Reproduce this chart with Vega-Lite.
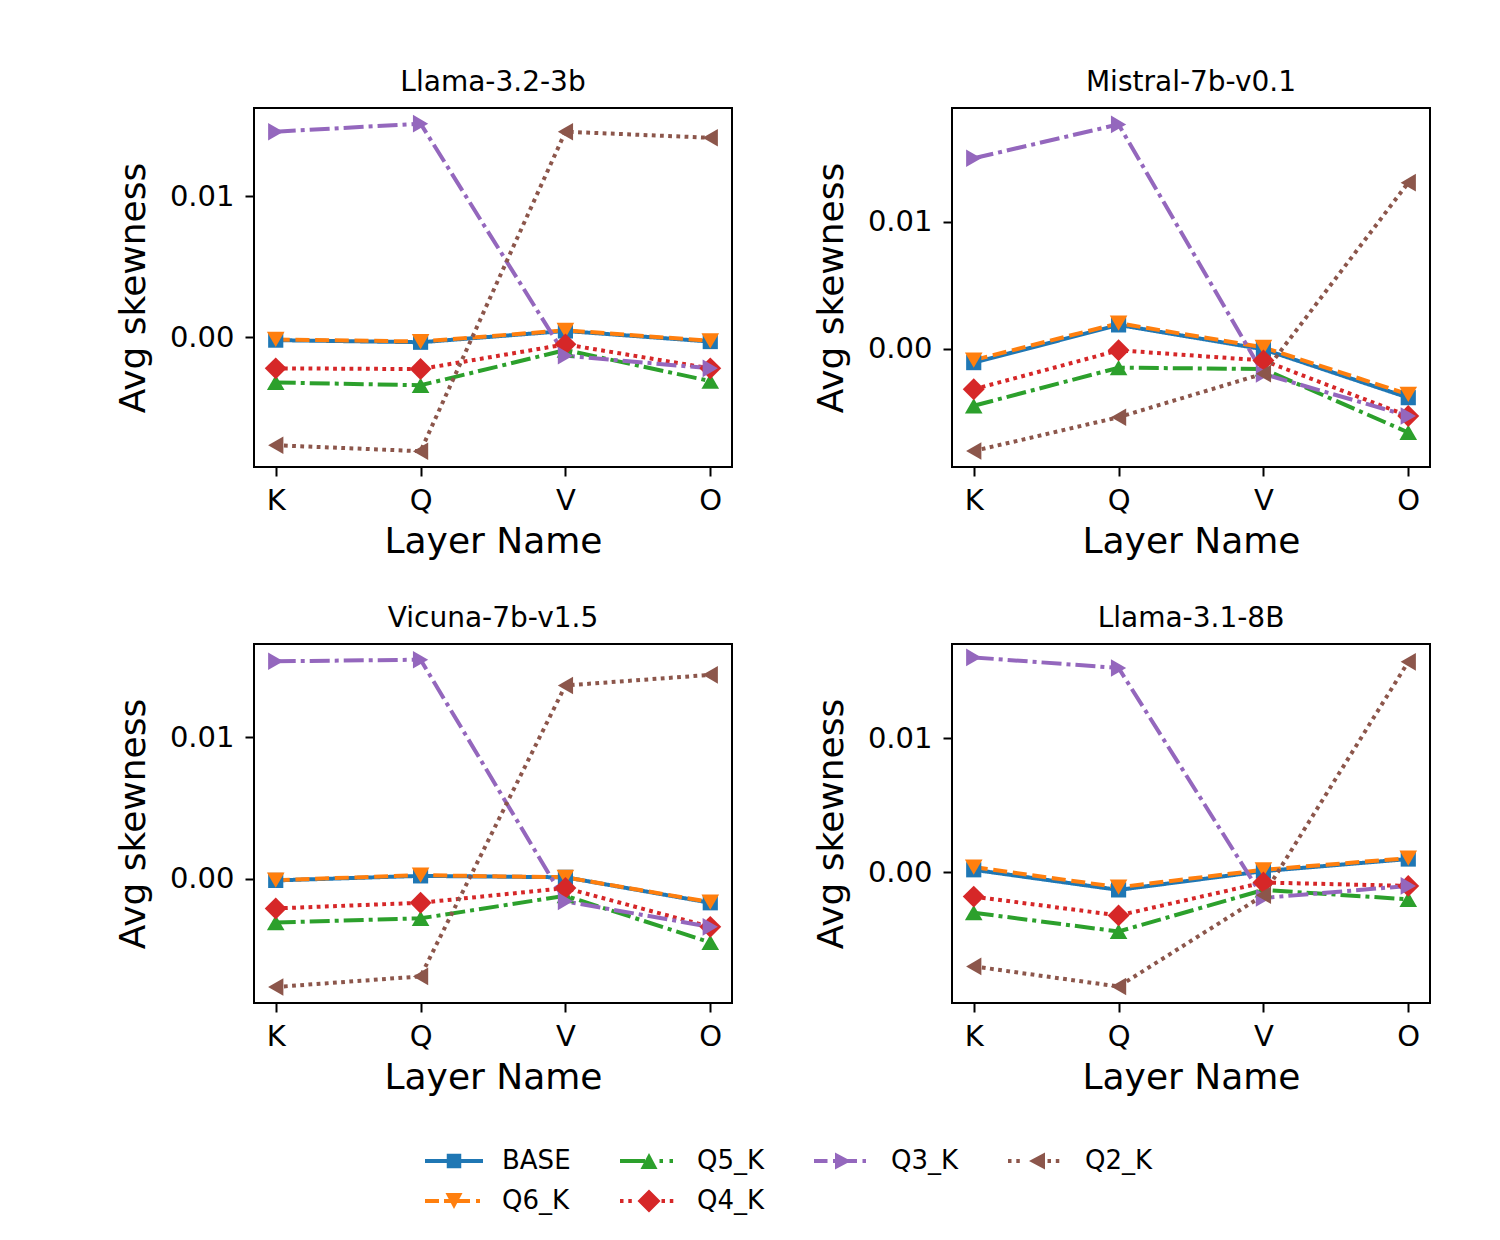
{
  "$schema": "https://vega.github.io/schema/vega-lite/v6.json",
  "background": "white",
  "padding": {"left": 114, "top": 68, "right": 20, "bottom": 20},
  "data": {"values": [
    {"m":"Llama-3.2-3b","s":"BASE","l":"K","v":-0.0002},{"m":"Llama-3.2-3b","s":"BASE","l":"Q","v":-0.00035},{"m":"Llama-3.2-3b","s":"BASE","l":"V","v":0.00045},{"m":"Llama-3.2-3b","s":"BASE","l":"O","v":-0.0003},
    {"m":"Llama-3.2-3b","s":"Q6_K","l":"K","v":-0.00015},{"m":"Llama-3.2-3b","s":"Q6_K","l":"Q","v":-0.0003},{"m":"Llama-3.2-3b","s":"Q6_K","l":"V","v":0.0005},{"m":"Llama-3.2-3b","s":"Q6_K","l":"O","v":-0.00025},
    {"m":"Llama-3.2-3b","s":"Q5_K","l":"K","v":-0.0032},{"m":"Llama-3.2-3b","s":"Q5_K","l":"Q","v":-0.0034},{"m":"Llama-3.2-3b","s":"Q5_K","l":"V","v":-0.0009},{"m":"Llama-3.2-3b","s":"Q5_K","l":"O","v":-0.0031},
    {"m":"Llama-3.2-3b","s":"Q4_K","l":"K","v":-0.0022},{"m":"Llama-3.2-3b","s":"Q4_K","l":"Q","v":-0.00225},{"m":"Llama-3.2-3b","s":"Q4_K","l":"V","v":-0.0005},{"m":"Llama-3.2-3b","s":"Q4_K","l":"O","v":-0.0022},
    {"m":"Llama-3.2-3b","s":"Q3_K","l":"K","v":0.01457},{"m":"Llama-3.2-3b","s":"Q3_K","l":"Q","v":0.01514},{"m":"Llama-3.2-3b","s":"Q3_K","l":"V","v":-0.0013},{"m":"Llama-3.2-3b","s":"Q3_K","l":"O","v":-0.0022},
    {"m":"Llama-3.2-3b","s":"Q2_K","l":"K","v":-0.00765},{"m":"Llama-3.2-3b","s":"Q2_K","l":"Q","v":-0.00807},{"m":"Llama-3.2-3b","s":"Q2_K","l":"V","v":0.01457},{"m":"Llama-3.2-3b","s":"Q2_K","l":"O","v":0.01414},

    {"m":"Mistral-7b-v0.1","s":"BASE","l":"K","v":-0.0011},{"m":"Mistral-7b-v0.1","s":"BASE","l":"Q","v":0.00187},{"m":"Mistral-7b-v0.1","s":"BASE","l":"V","v":-0.00005},{"m":"Mistral-7b-v0.1","s":"BASE","l":"O","v":-0.00386},
    {"m":"Mistral-7b-v0.1","s":"Q6_K","l":"K","v":-0.0009},{"m":"Mistral-7b-v0.1","s":"Q6_K","l":"Q","v":0.002},{"m":"Mistral-7b-v0.1","s":"Q6_K","l":"V","v":0.0001},{"m":"Mistral-7b-v0.1","s":"Q6_K","l":"O","v":-0.0036},
    {"m":"Mistral-7b-v0.1","s":"Q5_K","l":"K","v":-0.0045},{"m":"Mistral-7b-v0.1","s":"Q5_K","l":"Q","v":-0.0015},{"m":"Mistral-7b-v0.1","s":"Q5_K","l":"V","v":-0.0016},{"m":"Mistral-7b-v0.1","s":"Q5_K","l":"O","v":-0.0066},
    {"m":"Mistral-7b-v0.1","s":"Q4_K","l":"K","v":-0.0032},{"m":"Mistral-7b-v0.1","s":"Q4_K","l":"Q","v":-0.00013},{"m":"Mistral-7b-v0.1","s":"Q4_K","l":"V","v":-0.00093},{"m":"Mistral-7b-v0.1","s":"Q4_K","l":"O","v":-0.0053},
    {"m":"Mistral-7b-v0.1","s":"Q3_K","l":"K","v":0.01499},{"m":"Mistral-7b-v0.1","s":"Q3_K","l":"Q","v":0.01766},{"m":"Mistral-7b-v0.1","s":"Q3_K","l":"V","v":-0.002},{"m":"Mistral-7b-v0.1","s":"Q3_K","l":"O","v":-0.0053},
    {"m":"Mistral-7b-v0.1","s":"Q2_K","l":"K","v":-0.00806},{"m":"Mistral-7b-v0.1","s":"Q2_K","l":"Q","v":-0.0054},{"m":"Mistral-7b-v0.1","s":"Q2_K","l":"V","v":-0.00197},{"m":"Mistral-7b-v0.1","s":"Q2_K","l":"O","v":0.01307},

    {"m":"Vicuna-7b-v1.5","s":"BASE","l":"K","v":-0.00012},{"m":"Vicuna-7b-v1.5","s":"BASE","l":"Q","v":0.0002},{"m":"Vicuna-7b-v1.5","s":"BASE","l":"V","v":0.0001},{"m":"Vicuna-7b-v1.5","s":"BASE","l":"O","v":-0.0017},
    {"m":"Vicuna-7b-v1.5","s":"Q6_K","l":"K","v":-0.0001},{"m":"Vicuna-7b-v1.5","s":"Q6_K","l":"Q","v":0.00025},{"m":"Vicuna-7b-v1.5","s":"Q6_K","l":"V","v":0.0001},{"m":"Vicuna-7b-v1.5","s":"Q6_K","l":"O","v":-0.00165},
    {"m":"Vicuna-7b-v1.5","s":"Q5_K","l":"K","v":-0.0031},{"m":"Vicuna-7b-v1.5","s":"Q5_K","l":"Q","v":-0.0028},{"m":"Vicuna-7b-v1.5","s":"Q5_K","l":"V","v":-0.0012},{"m":"Vicuna-7b-v1.5","s":"Q5_K","l":"O","v":-0.0045},
    {"m":"Vicuna-7b-v1.5","s":"Q4_K","l":"K","v":-0.0021},{"m":"Vicuna-7b-v1.5","s":"Q4_K","l":"Q","v":-0.0017},{"m":"Vicuna-7b-v1.5","s":"Q4_K","l":"V","v":-0.00066},{"m":"Vicuna-7b-v1.5","s":"Q4_K","l":"O","v":-0.0034},
    {"m":"Vicuna-7b-v1.5","s":"Q3_K","l":"K","v":0.01536},{"m":"Vicuna-7b-v1.5","s":"Q3_K","l":"Q","v":0.01547},{"m":"Vicuna-7b-v1.5","s":"Q3_K","l":"V","v":-0.0016},{"m":"Vicuna-7b-v1.5","s":"Q3_K","l":"O","v":-0.0034},
    {"m":"Vicuna-7b-v1.5","s":"Q2_K","l":"K","v":-0.00765},{"m":"Vicuna-7b-v1.5","s":"Q2_K","l":"Q","v":-0.0069},{"m":"Vicuna-7b-v1.5","s":"Q2_K","l":"V","v":0.01365},{"m":"Vicuna-7b-v1.5","s":"Q2_K","l":"O","v":0.0144},

    {"m":"Llama-3.1-8B","s":"BASE","l":"K","v":0.0002},{"m":"Llama-3.1-8B","s":"BASE","l":"Q","v":-0.0013},{"m":"Llama-3.1-8B","s":"BASE","l":"V","v":0.0001},{"m":"Llama-3.1-8B","s":"BASE","l":"O","v":0.001},
    {"m":"Llama-3.1-8B","s":"Q6_K","l":"K","v":0.0004},{"m":"Llama-3.1-8B","s":"Q6_K","l":"Q","v":-0.0011},{"m":"Llama-3.1-8B","s":"Q6_K","l":"V","v":0.0002},{"m":"Llama-3.1-8B","s":"Q6_K","l":"O","v":0.00107},
    {"m":"Llama-3.1-8B","s":"Q5_K","l":"K","v":-0.003},{"m":"Llama-3.1-8B","s":"Q5_K","l":"Q","v":-0.0044},{"m":"Llama-3.1-8B","s":"Q5_K","l":"V","v":-0.0013},{"m":"Llama-3.1-8B","s":"Q5_K","l":"O","v":-0.002},
    {"m":"Llama-3.1-8B","s":"Q4_K","l":"K","v":-0.0018},{"m":"Llama-3.1-8B","s":"Q4_K","l":"Q","v":-0.0032},{"m":"Llama-3.1-8B","s":"Q4_K","l":"V","v":-0.00075},{"m":"Llama-3.1-8B","s":"Q4_K","l":"O","v":-0.001},
    {"m":"Llama-3.1-8B","s":"Q3_K","l":"K","v":0.01603},{"m":"Llama-3.1-8B","s":"Q3_K","l":"Q","v":0.01524},{"m":"Llama-3.1-8B","s":"Q3_K","l":"V","v":-0.0019},{"m":"Llama-3.1-8B","s":"Q3_K","l":"O","v":-0.001},
    {"m":"Llama-3.1-8B","s":"Q2_K","l":"K","v":-0.007},{"m":"Llama-3.1-8B","s":"Q2_K","l":"Q","v":-0.0085},{"m":"Llama-3.1-8B","s":"Q2_K","l":"V","v":-0.0017},{"m":"Llama-3.1-8B","s":"Q2_K","l":"O","v":0.0157}
  ]},
  "columns": 2,
  "bounds": "flush",
  "spacing": {"row": 177, "column": 220},
  "concat": [
    {
      "width": 478, "height": 359,
      "title": "Llama-3.2-3b",
      "transform": [{"filter": "datum.m === 'Llama-3.2-3b'"}],
      "encoding": {
        "x": {"field": "l", "type": "ordinal", "scale": {"type": "point", "domain": ["K","Q","V","O"], "padding": 0.15}, "axis": {"title": "Layer Name", "labelAngle": 0}},
        "y": {"field": "v", "type": "quantitative", "scale": {"domain": [-0.00919, 0.01625], "nice": false, "zero": false}, "axis": {"title": "Avg skewness", "values": [0, 0.01], "format": ".2f"}}
      },
      "layer": [
        {"mark": {"type": "point", "filled": true, "opacity": 0},
         "encoding": {
           "color": {"field": "s", "type": "nominal", "scale": {"domain": ["BASE","Q5_K","Q3_K","Q2_K","Q6_K","Q4_K"], "range": ["#1f77b4","#2ca02c","#9467bd","#8c564b","#ff7f0e","#d62728"]},
             "legend": {"title": null, "orient": "none", "legendX": 171, "legendY": 1040, "direction": "horizontal", "columns": 4, "padding": 0, "symbolSize": 100, "symbolStrokeWidth": 0, "symbolOpacity": 1, "symbolOffset": 16, "labelOffset": 35, "rowPadding": 14, "columnPadding": 49, "labelFontSize": 26, "labelFont": "DejaVu Sans", "labelColor": "black"}},
           "shape": {"field": "s", "type": "nominal", "scale": {"domain": ["BASE","Q5_K","Q3_K","Q2_K","Q6_K","Q4_K"], "range": [
               "M-5.8,-0.38H5.8V0.38H-5.8ZM-1.45,-1.45H1.45V1.45H-1.45Z",
               "M-5.8,-0.38H-0.8V0.38H-5.8ZM2.1,-0.38H2.8V0.38H2.1ZM4.1,-0.38H4.8V0.38H4.1ZM0,-1.6L1.7,1.6H-1.7Z",
               "M-5.8,-0.38H-3.1V0.38H-5.8ZM-2.0,-0.38H2.8V0.38H-2.0ZM3.9,-0.38H4.6V0.38H3.9ZM-1.6,-1.7L1.6,0L-1.6,1.7Z",
               "M-5.8,-0.38H-5.1V0.38H-5.8ZM-4.14,-0.38H-3.44V0.38H-4.14ZM2.1,-0.38H2.8V0.38H2.1ZM3.76,-0.38H4.46V0.38H3.76ZM1.6,-1.7L1.6,1.7L-1.6,0Z",
               "M-5.8,-0.38H-3.0V0.38H-5.8ZM-2.0,-0.38H3.2V0.38H-2.0ZM4.4,-0.38H5.2V0.38H4.4ZM-1.7,-1.6H1.7L0,1.6Z",
               "M-5.8,-0.38H-5.1V0.38H-5.8ZM-4.14,-0.38H-3.44V0.38H-4.14ZM2.5,-0.38H3.2V0.38H2.5ZM4.16,-0.38H4.86V0.38H4.16ZM0,-2.3L2.3,0L0,2.3L-2.3,0Z"
             ]},
             "legend": {"title": null, "orient": "none", "legendX": 171, "legendY": 1040, "direction": "horizontal", "columns": 4, "padding": 0, "symbolSize": 100, "symbolStrokeWidth": 0, "symbolOpacity": 1, "symbolOffset": 16, "labelOffset": 35, "rowPadding": 14, "columnPadding": 49, "labelFontSize": 26, "labelFont": "DejaVu Sans", "labelColor": "black"}}
         }},
        {"mark": {"type": "line", "strokeWidth": 4},
         "encoding": {
           "color": {"field": "s", "type": "nominal", "legend": null},
           "strokeDash": {"field": "s", "type": "nominal", "scale": {"domain": ["BASE","Q6_K","Q5_K","Q4_K","Q3_K","Q2_K"], "range": [[1,0],[14,5.7],[20,5,4,5],[3.8,4.4],[20,5,4,5],[3.8,4.4]]}, "legend": null}
         }},
        {"transform": [{"filter": "datum.s === 'BASE'"}], "mark": {"type": "point", "shape": "square", "size": 230, "filled": true, "opacity": 1, "strokeWidth": 0}, "encoding": {"color": {"field": "s", "type": "nominal", "legend": null}}},
        {"transform": [{"filter": "datum.s === 'Q6_K'"}], "mark": {"type": "point", "shape": "triangle-down", "size": 310, "filled": true, "opacity": 1, "strokeWidth": 0}, "encoding": {"color": {"field": "s", "type": "nominal", "legend": null}}},
        {"transform": [{"filter": "datum.s === 'Q5_K'"}], "mark": {"type": "point", "shape": "triangle-up", "size": 310, "filled": true, "opacity": 1, "strokeWidth": 0}, "encoding": {"color": {"field": "s", "type": "nominal", "legend": null}}},
        {"transform": [{"filter": "datum.s === 'Q4_K'"}], "mark": {"type": "point", "shape": "diamond", "size": 480, "filled": true, "opacity": 1, "strokeWidth": 0}, "encoding": {"color": {"field": "s", "type": "nominal", "legend": null}}},
        {"transform": [{"filter": "datum.s === 'Q3_K'"}], "mark": {"type": "point", "shape": "triangle-right", "size": 310, "filled": true, "opacity": 1, "strokeWidth": 0}, "encoding": {"color": {"field": "s", "type": "nominal", "legend": null}}},
        {"transform": [{"filter": "datum.s === 'Q2_K'"}], "mark": {"type": "point", "shape": "triangle-left", "size": 310, "filled": true, "opacity": 1, "strokeWidth": 0}, "encoding": {"color": {"field": "s", "type": "nominal", "legend": null}}}
      ]
    },
    {
      "width": 478, "height": 359,
      "title": "Mistral-7b-v0.1",
      "transform": [{"filter": "datum.m === 'Mistral-7b-v0.1'"}],
      "encoding": {
        "x": {"field": "l", "type": "ordinal", "scale": {"type": "point", "domain": ["K","Q","V","O"], "padding": 0.15}, "axis": {"title": "Layer Name", "labelAngle": 0}},
        "y": {"field": "v", "type": "quantitative", "scale": {"domain": [-0.00932, 0.01895], "nice": false, "zero": false}, "axis": {"title": "Avg skewness", "values": [0, 0.01], "format": ".2f"}},
        "color": {"field": "s", "type": "nominal", "legend": null}
      },
      "layer": [
        {"mark": {"type": "line", "strokeWidth": 4}, "encoding": {"strokeDash": {"field": "s", "type": "nominal", "legend": null}}},
        {"transform": [{"filter": "datum.s === 'BASE'"}], "mark": {"type": "point", "shape": "square", "size": 230, "filled": true, "opacity": 1, "strokeWidth": 0}},
        {"transform": [{"filter": "datum.s === 'Q6_K'"}], "mark": {"type": "point", "shape": "triangle-down", "size": 310, "filled": true, "opacity": 1, "strokeWidth": 0}},
        {"transform": [{"filter": "datum.s === 'Q5_K'"}], "mark": {"type": "point", "shape": "triangle-up", "size": 310, "filled": true, "opacity": 1, "strokeWidth": 0}},
        {"transform": [{"filter": "datum.s === 'Q4_K'"}], "mark": {"type": "point", "shape": "diamond", "size": 480, "filled": true, "opacity": 1, "strokeWidth": 0}},
        {"transform": [{"filter": "datum.s === 'Q3_K'"}], "mark": {"type": "point", "shape": "triangle-right", "size": 310, "filled": true, "opacity": 1, "strokeWidth": 0}},
        {"transform": [{"filter": "datum.s === 'Q2_K'"}], "mark": {"type": "point", "shape": "triangle-left", "size": 310, "filled": true, "opacity": 1, "strokeWidth": 0}}
      ]
    },
    {
      "width": 478, "height": 359,
      "title": "Vicuna-7b-v1.5",
      "transform": [{"filter": "datum.m === 'Vicuna-7b-v1.5'"}],
      "encoding": {
        "x": {"field": "l", "type": "ordinal", "scale": {"type": "point", "domain": ["K","Q","V","O"], "padding": 0.15}, "axis": {"title": "Layer Name", "labelAngle": 0}},
        "y": {"field": "v", "type": "quantitative", "scale": {"domain": [-0.00878, 0.01658], "nice": false, "zero": false}, "axis": {"title": "Avg skewness", "values": [0, 0.01], "format": ".2f"}},
        "color": {"field": "s", "type": "nominal", "legend": null}
      },
      "layer": [
        {"mark": {"type": "line", "strokeWidth": 4}, "encoding": {"strokeDash": {"field": "s", "type": "nominal", "legend": null}}},
        {"transform": [{"filter": "datum.s === 'BASE'"}], "mark": {"type": "point", "shape": "square", "size": 230, "filled": true, "opacity": 1, "strokeWidth": 0}},
        {"transform": [{"filter": "datum.s === 'Q6_K'"}], "mark": {"type": "point", "shape": "triangle-down", "size": 310, "filled": true, "opacity": 1, "strokeWidth": 0}},
        {"transform": [{"filter": "datum.s === 'Q5_K'"}], "mark": {"type": "point", "shape": "triangle-up", "size": 310, "filled": true, "opacity": 1, "strokeWidth": 0}},
        {"transform": [{"filter": "datum.s === 'Q4_K'"}], "mark": {"type": "point", "shape": "diamond", "size": 480, "filled": true, "opacity": 1, "strokeWidth": 0}},
        {"transform": [{"filter": "datum.s === 'Q3_K'"}], "mark": {"type": "point", "shape": "triangle-right", "size": 310, "filled": true, "opacity": 1, "strokeWidth": 0}},
        {"transform": [{"filter": "datum.s === 'Q2_K'"}], "mark": {"type": "point", "shape": "triangle-left", "size": 310, "filled": true, "opacity": 1, "strokeWidth": 0}}
      ]
    },
    {
      "width": 478, "height": 359,
      "title": "Llama-3.1-8B",
      "transform": [{"filter": "datum.m === 'Llama-3.1-8B'"}],
      "encoding": {
        "x": {"field": "l", "type": "ordinal", "scale": {"type": "point", "domain": ["K","Q","V","O"], "padding": 0.15}, "axis": {"title": "Layer Name", "labelAngle": 0}},
        "y": {"field": "v", "type": "quantitative", "scale": {"domain": [-0.00973, 0.01703], "nice": false, "zero": false}, "axis": {"title": "Avg skewness", "values": [0, 0.01], "format": ".2f"}},
        "color": {"field": "s", "type": "nominal", "legend": null}
      },
      "layer": [
        {"mark": {"type": "line", "strokeWidth": 4}, "encoding": {"strokeDash": {"field": "s", "type": "nominal", "legend": null}}},
        {"transform": [{"filter": "datum.s === 'BASE'"}], "mark": {"type": "point", "shape": "square", "size": 230, "filled": true, "opacity": 1, "strokeWidth": 0}},
        {"transform": [{"filter": "datum.s === 'Q6_K'"}], "mark": {"type": "point", "shape": "triangle-down", "size": 310, "filled": true, "opacity": 1, "strokeWidth": 0}},
        {"transform": [{"filter": "datum.s === 'Q5_K'"}], "mark": {"type": "point", "shape": "triangle-up", "size": 310, "filled": true, "opacity": 1, "strokeWidth": 0}},
        {"transform": [{"filter": "datum.s === 'Q4_K'"}], "mark": {"type": "point", "shape": "diamond", "size": 480, "filled": true, "opacity": 1, "strokeWidth": 0}},
        {"transform": [{"filter": "datum.s === 'Q3_K'"}], "mark": {"type": "point", "shape": "triangle-right", "size": 310, "filled": true, "opacity": 1, "strokeWidth": 0}},
        {"transform": [{"filter": "datum.s === 'Q2_K'"}], "mark": {"type": "point", "shape": "triangle-left", "size": 310, "filled": true, "opacity": 1, "strokeWidth": 0}}
      ]
    }
  ],
  "config": {
    "font": "DejaVu Sans",
    "view": {"stroke": "black", "strokeWidth": 2},
    "axis": {"domain": false, "grid": false, "tickColor": "black", "tickWidth": 2, "tickSize": 9, "labelColor": "black", "titleColor": "black", "labelFont": "DejaVu Sans", "titleFont": "DejaVu Sans", "labelFontSize": 29, "titleFontSize": 36, "titleFontWeight": "normal", "labelPadding": 10},
    "axisY": {"titlePadding": 17, "labelPadding": 11},
    "axisX": {"titlePadding": 9},
    "title": {"fontSize": 28, "fontWeight": "normal", "font": "DejaVu Sans", "anchor": "middle", "frame": "group", "offset": 11, "baseline": "alphabetic", "color": "black"}
  }
}
